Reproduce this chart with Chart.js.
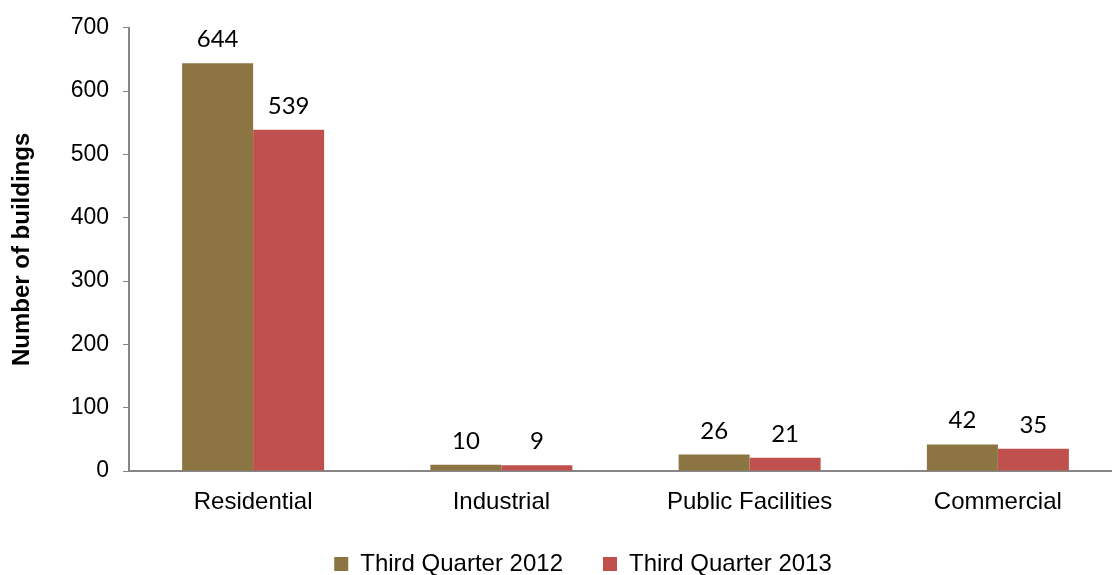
<!DOCTYPE html>
<html>
<head>
<meta charset="utf-8">
<script src="https://cdn.jsdelivr.net/npm/chart.js@4"></script>
<style>
  html, body { margin: 0; padding: 0; background: #fff; overflow: hidden; }
  #wrap { width: 1122px; height: 575px; }
</style>
</head>
<body>
<div id="wrap"><canvas id="myChart"></canvas></div>
<script>
const categories = ['Residential', 'Industrial', 'Public Facilities', 'Commercial'];
const q2012 = [644, 10, 26, 42];
const q2013 = [539, 9, 21, 35];
const seriesNames = ['Third Quarter 2012', 'Third Quarter 2013'];

const axisGray = '#868686';

// value labels above each bar
const barLabels = {
    id: 'barLabels',
    beforeDraw(chart) {
        // let the category labels run below the (short) x axis box
        chart.scales.x._computeLabelArea = function() { return undefined; };
    },
    afterDatasetsDraw(chart) {
        const c = chart.ctx;
        c.save();
        c.font = '24px Lato';
        c.fillStyle = '#000';
        c.textAlign = 'center';
        c.textBaseline = 'alphabetic';
        chart.data.datasets.forEach((ds, i) => {
            chart.getDatasetMeta(i).data.forEach((bar, j) => {
                c.fillText(ds.data[j], bar.x, bar.y - 16);
            });
        });
        c.restore();
    }
};

var ctx = document.getElementById('myChart').getContext('2d');
var myChart = new Chart(ctx, {
    type: 'bar',
    data: {
        labels: categories,
        datasets: [{
            label: seriesNames[0],
            data: q2012,
            backgroundColor: '#8C7443',
            categoryPercentage: 0.572,
            barPercentage: 1
        }, {
            label: seriesNames[1],
            data: q2013,
            backgroundColor: '#C0504D',
            categoryPercentage: 0.572,
            barPercentage: 1
        }]
    },
    options: {
        responsive: true,
        maintainAspectRatio: false,
        animation: false,
        layout: { padding: { top: 22, left: 44, right: 0, bottom: -11 } },
        plugins: {
            legend: {
                position: 'bottom',
                labels: {
                    boxWidth: 14,
                    boxHeight: 14,
                    padding: 40,
                    color: '#000',
                    font: { family: 'Liberation Sans', size: 24 }
                }
            },
            tooltip: { enabled: false }
        },
        scales: {
            y: {
                min: 0,
                max: 700,
                ticks: {
                    stepSize: 100,
                    color: '#000',
                    padding: 14,
                    font: { family: 'Liberation Sans', size: 23 }
                },
                grid: {
                    drawOnChartArea: false,
                    tickLength: 6,
                    color: axisGray
                },
                border: { color: axisGray, width: 2 },
                title: {
                    display: true,
                    text: 'Number of buildings',
                    color: '#000',
                    font: { family: 'Liberation Sans', size: 24, weight: 'bold' },
                    padding: { top: -36, bottom: 10 }
                },
                afterFit: function(scale) { scale.width = 85; }
            },
            x: {
                ticks: {
                    color: '#000',
                    padding: 11,
                    font: { family: 'Liberation Sans', size: 24, lineHeight: 1 }
                },
                grid: { display: false },
                border: { color: axisGray, width: 2 },
                afterFit: function(scale) { scale.height = 41; }
            }
        }
    },
    plugins: [barLabels]
});
</script>
</body>
</html>
